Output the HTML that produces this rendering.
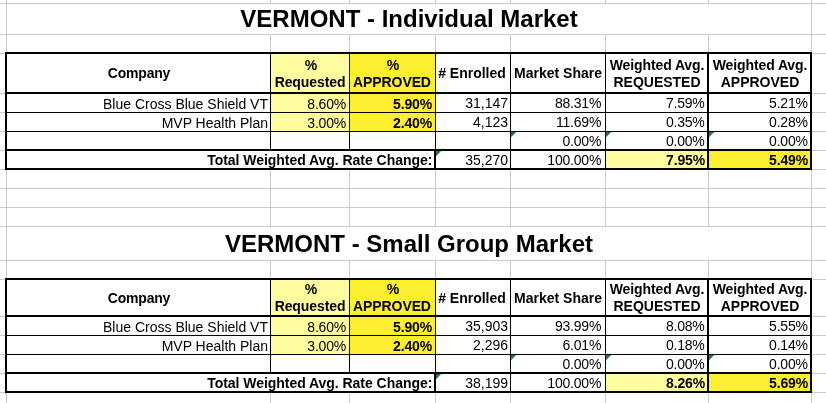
<!DOCTYPE html>
<html><head><meta charset="utf-8"><title>Vermont</title>
<style>
html,body{margin:0;padding:0;background:#fff;}
body{width:826px;height:403px;position:relative;overflow:hidden;font-family:"Liberation Sans",sans-serif;color:#000;}
body>div,body>span,body>svg{position:absolute;display:block;}
body>span{will-change:transform;}
</style></head><body>
<div style="left:6px;top:0px;width:1px;height:403px;background:#cccccc"></div>
<div style="left:270px;top:0px;width:1px;height:403px;background:#cccccc"></div>
<div style="left:349px;top:0px;width:1px;height:403px;background:#cccccc"></div>
<div style="left:435px;top:0px;width:1px;height:403px;background:#cccccc"></div>
<div style="left:510px;top:0px;width:1px;height:403px;background:#cccccc"></div>
<div style="left:605px;top:0px;width:1px;height:403px;background:#cccccc"></div>
<div style="left:708px;top:0px;width:1px;height:403px;background:#cccccc"></div>
<div style="left:811px;top:0px;width:1px;height:403px;background:#cccccc"></div>
<div style="left:0px;top:3px;width:826px;height:1px;background:#cccccc"></div>
<div style="left:0px;top:34px;width:826px;height:1px;background:#cccccc"></div>
<div style="left:0px;top:53px;width:826px;height:1px;background:#cccccc"></div>
<div style="left:0px;top:93px;width:826px;height:1px;background:#cccccc"></div>
<div style="left:0px;top:112px;width:826px;height:1px;background:#cccccc"></div>
<div style="left:0px;top:131px;width:826px;height:1px;background:#cccccc"></div>
<div style="left:0px;top:150px;width:826px;height:1px;background:#cccccc"></div>
<div style="left:0px;top:169px;width:826px;height:1px;background:#cccccc"></div>
<div style="left:0px;top:188px;width:826px;height:1px;background:#cccccc"></div>
<div style="left:0px;top:207px;width:826px;height:1px;background:#cccccc"></div>
<div style="left:0px;top:226px;width:826px;height:1px;background:#cccccc"></div>
<div style="left:0px;top:260px;width:826px;height:1px;background:#cccccc"></div>
<div style="left:0px;top:279px;width:826px;height:1px;background:#cccccc"></div>
<div style="left:0px;top:316px;width:826px;height:1px;background:#cccccc"></div>
<div style="left:0px;top:335px;width:826px;height:1px;background:#cccccc"></div>
<div style="left:0px;top:354px;width:826px;height:1px;background:#cccccc"></div>
<div style="left:0px;top:373px;width:826px;height:1px;background:#cccccc"></div>
<div style="left:0px;top:392px;width:826px;height:1px;background:#cccccc"></div>
<div style="left:7px;top:4px;width:804px;height:30px;background:#fff"></div>
<div style="left:7px;top:227px;width:804px;height:33px;background:#fff"></div>
<div style="left:5px;top:52px;width:807px;height:118px;background:#fff"></div>
<div style="left:271px;top:54px;width:78px;height:95px;background:#fffd9e"></div>
<div style="left:350px;top:54px;width:85px;height:95px;background:#fdee30"></div>
<div style="left:271px;top:132px;width:164px;height:17px;background:#fff"></div>
<div style="left:606px;top:151px;width:101px;height:17px;background:#fffd9e"></div>
<div style="left:709px;top:151px;width:101px;height:17px;background:#fdee30"></div>
<div style="left:5px;top:52px;width:807px;height:2px;background:#000"></div>
<div style="left:5px;top:92px;width:807px;height:2px;background:#000"></div>
<div style="left:5px;top:112px;width:807px;height:1px;background:#000"></div>
<div style="left:5px;top:131px;width:807px;height:1px;background:#000"></div>
<div style="left:5px;top:149px;width:807px;height:2px;background:#000"></div>
<div style="left:5px;top:168px;width:807px;height:2px;background:#000"></div>
<div style="left:5px;top:52px;width:2px;height:118px;background:#000"></div>
<div style="left:810px;top:52px;width:2px;height:118px;background:#000"></div>
<div style="left:270px;top:52px;width:1px;height:97px;background:#000"></div>
<div style="left:349px;top:52px;width:1px;height:97px;background:#000"></div>
<div style="left:435px;top:52px;width:1px;height:116px;background:#000"></div>
<div style="left:510px;top:52px;width:1px;height:116px;background:#000"></div>
<div style="left:605px;top:52px;width:1px;height:116px;background:#000"></div>
<div style="left:434px;top:149px;width:2px;height:19px;background:#000"></div>
<div style="left:707px;top:52px;width:2px;height:116px;background:#000"></div>
<svg style="left:511px;top:132px" width="6" height="6"><path d="M0 0H5.2L0 5.2Z" fill="#1e7d2e"/></svg>
<svg style="left:606px;top:132px" width="6" height="6"><path d="M0 0H5.2L0 5.2Z" fill="#1e7d2e"/></svg>
<svg style="left:709px;top:132px" width="6" height="6"><path d="M0 0H5.2L0 5.2Z" fill="#1e7d2e"/></svg>
<svg style="left:436px;top:151px" width="6" height="6"><path d="M0 0H5.2L0 5.2Z" fill="#1e7d2e"/></svg>
<span style="top:14px;line-height:16px;height:16px;font-size:24px;white-space:nowrap;font-weight:bold;left:209px;width:400px;text-align:center;line-height:28px;height:28px;top:5px;">VERMONT - Individual Market</span>
<span style="top:65px;line-height:16px;height:16px;font-size:14px;white-space:nowrap;font-weight:bold;left:-61.400000000000006px;width:400px;text-align:center;letter-spacing:-0.2px;">Company</span>
<span style="top:57px;line-height:16px;height:16px;font-size:14px;white-space:nowrap;font-weight:bold;left:110.5px;width:400px;text-align:center;">%</span>
<span style="top:74px;line-height:16px;height:16px;font-size:14px;white-space:nowrap;font-weight:bold;left:109.5px;width:400px;text-align:center;letter-spacing:-0.1px;">Requested</span>
<span style="top:57px;line-height:16px;height:16px;font-size:14px;white-space:nowrap;font-weight:bold;left:192.5px;width:400px;text-align:center;">%</span>
<span style="top:74px;line-height:16px;height:16px;font-size:14px;white-space:nowrap;font-weight:bold;left:191.60000000000002px;width:400px;text-align:center;letter-spacing:-0.1px;">APPROVED</span>
<span style="top:65px;line-height:16px;height:16px;font-size:14px;white-space:nowrap;font-weight:bold;left:272.3px;width:400px;text-align:center;"># Enrolled</span>
<span style="top:65px;line-height:16px;height:16px;font-size:14px;white-space:nowrap;font-weight:bold;left:358px;width:400px;text-align:center;">Market Share</span>
<span style="top:57px;line-height:16px;height:16px;font-size:14px;white-space:nowrap;font-weight:bold;left:456.5px;width:400px;text-align:center;letter-spacing:-0.1px;">Weighted Avg.</span>
<span style="top:74px;line-height:16px;height:16px;font-size:14px;white-space:nowrap;font-weight:bold;left:456.5px;width:400px;text-align:center;">REQUESTED</span>
<span style="top:57px;line-height:16px;height:16px;font-size:14px;white-space:nowrap;font-weight:bold;left:559.5px;width:400px;text-align:center;letter-spacing:-0.1px;">Weighted Avg.</span>
<span style="top:74px;line-height:16px;height:16px;font-size:14px;white-space:nowrap;font-weight:bold;left:559.5px;width:400px;text-align:center;">APPROVED</span>
<span style="top:96px;line-height:16px;height:16px;font-size:14px;white-space:nowrap;left:0;width:268px;text-align:right;">Blue Cross Blue Shield VT</span>
<span style="top:96px;line-height:16px;height:16px;font-size:14px;white-space:nowrap;left:0;width:346px;text-align:right;letter-spacing:-0.2px;">8.60%</span>
<span style="top:96px;line-height:16px;height:16px;font-size:14px;white-space:nowrap;font-weight:bold;left:0;width:432px;text-align:right;letter-spacing:-0.15px;">5.90%</span>
<span style="top:95px;line-height:16px;height:16px;font-size:14px;white-space:nowrap;left:0;width:508px;text-align:right;">31,147</span>
<span style="top:95px;line-height:16px;height:16px;font-size:14px;white-space:nowrap;left:0;width:601.2px;text-align:right;letter-spacing:-0.2px;">88.31%</span>
<span style="top:95px;line-height:16px;height:16px;font-size:14px;white-space:nowrap;left:0;width:704.6px;text-align:right;letter-spacing:-0.2px;">7.59%</span>
<span style="top:95px;line-height:16px;height:16px;font-size:14px;white-space:nowrap;left:0;width:807.8px;text-align:right;letter-spacing:-0.2px;">5.21%</span>
<span style="top:115px;line-height:16px;height:16px;font-size:14px;white-space:nowrap;left:0;width:268px;text-align:right;">MVP Health Plan</span>
<span style="top:115px;line-height:16px;height:16px;font-size:14px;white-space:nowrap;left:0;width:346px;text-align:right;letter-spacing:-0.2px;">3.00%</span>
<span style="top:115px;line-height:16px;height:16px;font-size:14px;white-space:nowrap;font-weight:bold;left:0;width:432px;text-align:right;letter-spacing:-0.15px;">2.40%</span>
<span style="top:114px;line-height:16px;height:16px;font-size:14px;white-space:nowrap;left:0;width:508px;text-align:right;">4,123</span>
<span style="top:114px;line-height:16px;height:16px;font-size:14px;white-space:nowrap;left:0;width:601.2px;text-align:right;letter-spacing:-0.2px;">11.69%</span>
<span style="top:114px;line-height:16px;height:16px;font-size:14px;white-space:nowrap;left:0;width:704.6px;text-align:right;letter-spacing:-0.2px;">0.35%</span>
<span style="top:114px;line-height:16px;height:16px;font-size:14px;white-space:nowrap;left:0;width:807.8px;text-align:right;letter-spacing:-0.2px;">0.28%</span>
<span style="top:133px;line-height:16px;height:16px;font-size:14px;white-space:nowrap;left:0;width:601.2px;text-align:right;letter-spacing:-0.2px;">0.00%</span>
<span style="top:133px;line-height:16px;height:16px;font-size:14px;white-space:nowrap;left:0;width:704.6px;text-align:right;letter-spacing:-0.2px;">0.00%</span>
<span style="top:133px;line-height:16px;height:16px;font-size:14px;white-space:nowrap;left:0;width:807.8px;text-align:right;letter-spacing:-0.2px;">0.00%</span>
<span style="top:152px;line-height:16px;height:16px;font-size:14px;white-space:nowrap;font-weight:bold;left:0;width:432.3px;text-align:right;letter-spacing:-0.04px;">Total Weighted Avg. Rate Change:</span>
<span style="top:152px;line-height:16px;height:16px;font-size:14px;white-space:nowrap;left:0;width:508px;text-align:right;">35,270</span>
<span style="top:152px;line-height:16px;height:16px;font-size:14px;white-space:nowrap;left:0;width:601.2px;text-align:right;letter-spacing:-0.2px;">100.00%</span>
<span style="top:152px;line-height:16px;height:16px;font-size:14px;white-space:nowrap;font-weight:bold;left:0;width:705px;text-align:right;letter-spacing:-0.15px;">7.95%</span>
<span style="top:152px;line-height:16px;height:16px;font-size:14px;white-space:nowrap;font-weight:bold;left:0;width:808px;text-align:right;letter-spacing:-0.15px;">5.49%</span>
<div style="left:5px;top:278px;width:807px;height:115px;background:#fff"></div>
<div style="left:271px;top:280px;width:78px;height:92px;background:#fffd9e"></div>
<div style="left:350px;top:280px;width:85px;height:92px;background:#fdee30"></div>
<div style="left:271px;top:355px;width:164px;height:17px;background:#fff"></div>
<div style="left:606px;top:374px;width:101px;height:17px;background:#fffd9e"></div>
<div style="left:709px;top:374px;width:101px;height:17px;background:#fdee30"></div>
<div style="left:5px;top:278px;width:807px;height:2px;background:#000"></div>
<div style="left:5px;top:315px;width:807px;height:2px;background:#000"></div>
<div style="left:5px;top:335px;width:807px;height:1px;background:#000"></div>
<div style="left:5px;top:354px;width:807px;height:1px;background:#000"></div>
<div style="left:5px;top:372px;width:807px;height:2px;background:#000"></div>
<div style="left:5px;top:391px;width:807px;height:2px;background:#000"></div>
<div style="left:5px;top:278px;width:2px;height:115px;background:#000"></div>
<div style="left:810px;top:278px;width:2px;height:115px;background:#000"></div>
<div style="left:270px;top:278px;width:1px;height:94px;background:#000"></div>
<div style="left:349px;top:278px;width:1px;height:94px;background:#000"></div>
<div style="left:435px;top:278px;width:1px;height:113px;background:#000"></div>
<div style="left:510px;top:278px;width:1px;height:113px;background:#000"></div>
<div style="left:605px;top:278px;width:1px;height:113px;background:#000"></div>
<div style="left:434px;top:372px;width:2px;height:19px;background:#000"></div>
<div style="left:707px;top:278px;width:2px;height:113px;background:#000"></div>
<svg style="left:511px;top:355px" width="6" height="6"><path d="M0 0H5.2L0 5.2Z" fill="#1e7d2e"/></svg>
<svg style="left:606px;top:355px" width="6" height="6"><path d="M0 0H5.2L0 5.2Z" fill="#1e7d2e"/></svg>
<svg style="left:709px;top:355px" width="6" height="6"><path d="M0 0H5.2L0 5.2Z" fill="#1e7d2e"/></svg>
<svg style="left:436px;top:374px" width="6" height="6"><path d="M0 0H5.2L0 5.2Z" fill="#1e7d2e"/></svg>
<span style="top:239px;line-height:16px;height:16px;font-size:24px;white-space:nowrap;font-weight:bold;left:209px;width:400px;text-align:center;line-height:28px;height:28px;top:230px;">VERMONT - Small Group Market</span>
<span style="top:290px;line-height:16px;height:16px;font-size:14px;white-space:nowrap;font-weight:bold;left:-61.400000000000006px;width:400px;text-align:center;letter-spacing:-0.2px;">Company</span>
<span style="top:281px;line-height:16px;height:16px;font-size:14px;white-space:nowrap;font-weight:bold;left:110.5px;width:400px;text-align:center;">%</span>
<span style="top:298px;line-height:16px;height:16px;font-size:14px;white-space:nowrap;font-weight:bold;left:109.5px;width:400px;text-align:center;letter-spacing:-0.1px;">Requested</span>
<span style="top:281px;line-height:16px;height:16px;font-size:14px;white-space:nowrap;font-weight:bold;left:192.5px;width:400px;text-align:center;">%</span>
<span style="top:298px;line-height:16px;height:16px;font-size:14px;white-space:nowrap;font-weight:bold;left:191.60000000000002px;width:400px;text-align:center;letter-spacing:-0.1px;">APPROVED</span>
<span style="top:290px;line-height:16px;height:16px;font-size:14px;white-space:nowrap;font-weight:bold;left:272.3px;width:400px;text-align:center;"># Enrolled</span>
<span style="top:290px;line-height:16px;height:16px;font-size:14px;white-space:nowrap;font-weight:bold;left:358px;width:400px;text-align:center;">Market Share</span>
<span style="top:281px;line-height:16px;height:16px;font-size:14px;white-space:nowrap;font-weight:bold;left:456.5px;width:400px;text-align:center;letter-spacing:-0.1px;">Weighted Avg.</span>
<span style="top:298px;line-height:16px;height:16px;font-size:14px;white-space:nowrap;font-weight:bold;left:456.5px;width:400px;text-align:center;">REQUESTED</span>
<span style="top:281px;line-height:16px;height:16px;font-size:14px;white-space:nowrap;font-weight:bold;left:559.5px;width:400px;text-align:center;letter-spacing:-0.1px;">Weighted Avg.</span>
<span style="top:298px;line-height:16px;height:16px;font-size:14px;white-space:nowrap;font-weight:bold;left:559.5px;width:400px;text-align:center;">APPROVED</span>
<span style="top:319px;line-height:16px;height:16px;font-size:14px;white-space:nowrap;left:0;width:268px;text-align:right;">Blue Cross Blue Shield VT</span>
<span style="top:319px;line-height:16px;height:16px;font-size:14px;white-space:nowrap;left:0;width:346px;text-align:right;letter-spacing:-0.2px;">8.60%</span>
<span style="top:319px;line-height:16px;height:16px;font-size:14px;white-space:nowrap;font-weight:bold;left:0;width:432px;text-align:right;letter-spacing:-0.15px;">5.90%</span>
<span style="top:318px;line-height:16px;height:16px;font-size:14px;white-space:nowrap;left:0;width:508px;text-align:right;">35,903</span>
<span style="top:318px;line-height:16px;height:16px;font-size:14px;white-space:nowrap;left:0;width:601.2px;text-align:right;letter-spacing:-0.2px;">93.99%</span>
<span style="top:318px;line-height:16px;height:16px;font-size:14px;white-space:nowrap;left:0;width:704.6px;text-align:right;letter-spacing:-0.2px;">8.08%</span>
<span style="top:318px;line-height:16px;height:16px;font-size:14px;white-space:nowrap;left:0;width:807.8px;text-align:right;letter-spacing:-0.2px;">5.55%</span>
<span style="top:338px;line-height:16px;height:16px;font-size:14px;white-space:nowrap;left:0;width:268px;text-align:right;">MVP Health Plan</span>
<span style="top:338px;line-height:16px;height:16px;font-size:14px;white-space:nowrap;left:0;width:346px;text-align:right;letter-spacing:-0.2px;">3.00%</span>
<span style="top:338px;line-height:16px;height:16px;font-size:14px;white-space:nowrap;font-weight:bold;left:0;width:432px;text-align:right;letter-spacing:-0.15px;">2.40%</span>
<span style="top:337px;line-height:16px;height:16px;font-size:14px;white-space:nowrap;left:0;width:508px;text-align:right;">2,296</span>
<span style="top:337px;line-height:16px;height:16px;font-size:14px;white-space:nowrap;left:0;width:601.2px;text-align:right;letter-spacing:-0.2px;">6.01%</span>
<span style="top:337px;line-height:16px;height:16px;font-size:14px;white-space:nowrap;left:0;width:704.6px;text-align:right;letter-spacing:-0.2px;">0.18%</span>
<span style="top:337px;line-height:16px;height:16px;font-size:14px;white-space:nowrap;left:0;width:807.8px;text-align:right;letter-spacing:-0.2px;">0.14%</span>
<span style="top:356px;line-height:16px;height:16px;font-size:14px;white-space:nowrap;left:0;width:601.2px;text-align:right;letter-spacing:-0.2px;">0.00%</span>
<span style="top:356px;line-height:16px;height:16px;font-size:14px;white-space:nowrap;left:0;width:704.6px;text-align:right;letter-spacing:-0.2px;">0.00%</span>
<span style="top:356px;line-height:16px;height:16px;font-size:14px;white-space:nowrap;left:0;width:807.8px;text-align:right;letter-spacing:-0.2px;">0.00%</span>
<span style="top:375px;line-height:16px;height:16px;font-size:14px;white-space:nowrap;font-weight:bold;left:0;width:432.3px;text-align:right;letter-spacing:-0.04px;">Total Weighted Avg. Rate Change:</span>
<span style="top:375px;line-height:16px;height:16px;font-size:14px;white-space:nowrap;left:0;width:508px;text-align:right;">38,199</span>
<span style="top:375px;line-height:16px;height:16px;font-size:14px;white-space:nowrap;left:0;width:601.2px;text-align:right;letter-spacing:-0.2px;">100.00%</span>
<span style="top:375px;line-height:16px;height:16px;font-size:14px;white-space:nowrap;font-weight:bold;left:0;width:705px;text-align:right;letter-spacing:-0.15px;">8.26%</span>
<span style="top:375px;line-height:16px;height:16px;font-size:14px;white-space:nowrap;font-weight:bold;left:0;width:808px;text-align:right;letter-spacing:-0.15px;">5.69%</span>
</body></html>
